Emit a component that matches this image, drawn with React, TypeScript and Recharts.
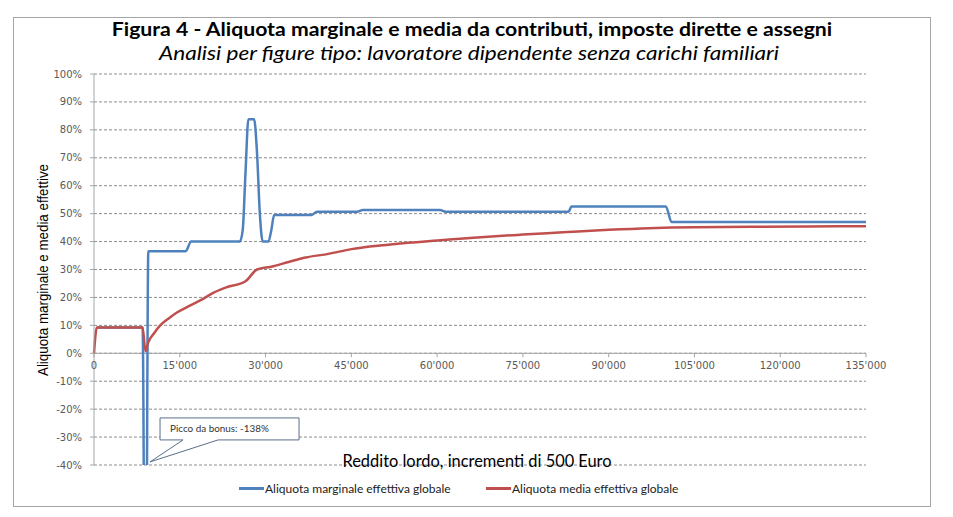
import React from "react";
import { LineChart, Line, XAxis, YAxis, CartesianGrid, ReferenceLine, ReferenceDot } from "recharts";

// gross income (euro) and effective marginal rate (%)
const marginalIncome = [500, 8500, 9000, 9500, 16000, 17000, 25500, 26000, 26500, 27000, 28000, 28500, 29000, 29500, 30500, 31000, 31500, 38000, 39000, 46000, 47000, 60500, 61500, 83000, 83500, 100000, 101000, 135000];
const marginalRate = [9.2, 9.2, -138, 36.5, 36.5, 40, 40, 44, 65, 83.8, 83.8, 72, 50, 40, 40, 44, 49.5, 49.5, 50.7, 50.7, 51.3, 51.3, 50.7, 50.7, 52.6, 52.6, 47, 47];

// gross income (euro) and effective average rate (%)
const averageIncome = [0, 500, 8500, 9000, 9500, 10500, 11500, 13000, 14500, 16500, 19000, 21000, 23000, 26500, 28500, 31000, 34000, 37000, 41000, 45000, 50000, 55000, 60000, 67000, 75000, 82000, 90000, 97000, 101000, 105000, 115000, 125000, 135000];
const averageRate = [0, 9.2, 9.2, 0.8, 4.0, 7.2, 9.8, 12.4, 14.6, 16.8, 19.4, 21.8, 23.5, 25.8, 30.0, 31.0, 32.7, 34.3, 35.6, 37.3, 38.6, 39.6, 40.4, 41.5, 42.5, 43.3, 44.2, 44.8, 45.0, 45.1, 45.3, 45.4, 45.5];

const xTicks = [0, 15000, 30000, 45000, 60000, 75000, 90000, 105000, 120000, 135000];
const yTicks = [-40, -30, -20, -10, 0, 10, 20, 30, 40, 50, 60, 70, 80, 90, 100];

const BLUE = "#4f81bd";
const RED = "#c0504d";
const TICK = { fontSize: 10, fill: "#595959", fontFamily: "DejaVu Sans" };

const marginalData = marginalIncome.map((x, i) => ({ x, y: marginalRate[i] }));
const averageData = averageIncome.map((x, i) => ({ x, y: averageRate[i] }));

const fmtEuro = (v: number) => (v === 0 ? "0" : `${v / 1000}'000`);

const Callout = (props: any) => {
  const { cx, cy } = props;
  const l = cx + 10, r = cx + 149, t = cy - 44, b = cy - 22;
  return (
    <g>
      <path
        d={`M${l},${t} H${r} V${b} H${cx + 68} L${cx},${cy} L${cx + 33},${b} H${l} Z`}
        fill="#fff" stroke="#5a6f8a" strokeWidth={1}
      />
      <text x={cx + 20} y={cy - 30} fontSize={9.9} fontFamily="Lato" fill="#333">Picco da bonus: -138%</text>
    </g>
  );
};

export default function App() {
  return (
    <div style={{ position: "fixed", left: 0, top: 0, width: 953, height: 517, background: "#fff", fontFamily: "Lato" }}>
      <div style={{ position: "absolute", left: 13, top: 17, width: 916, height: 488, border: "1px solid #a6a6a6" }} />

      <div style={{ position: "absolute", left: 472, top: 29, transform: "translate(-50%,-50%) scaleX(1.146)", whiteSpace: "nowrap", fontWeight: 700, fontSize: 18.5, lineHeight: "20px", color: "#000" }}>
        Figura 4 - Aliquota marginale e media da contributi, imposte dirette e assegni
      </div>
      <div style={{ position: "absolute", left: 469, top: 53, transform: "translate(-50%,-50%) scaleX(1.22)", whiteSpace: "nowrap", fontStyle: "italic", fontSize: 18.5, lineHeight: "20px", color: "#000" }}>
        Analisi per figure tipo: lavoratore dipendente senza carichi familiari
      </div>

      <div style={{ position: "absolute", left: 0, top: 0 }}>
        <LineChart width={953} height={517} margin={{ top: 74, right: 87, bottom: 52, left: 34 }}>
          <CartesianGrid vertical={false} stroke="#8c8c8c" strokeDasharray="3 2" />
          <XAxis type="number" dataKey="x" domain={[0, 135000]} ticks={xTicks} hide />
          <YAxis
            type="number" domain={[-40, 100]} ticks={yTicks} allowDataOverflow width={60}
            tickFormatter={(v: number) => `${v}%`} tick={TICK} tickSize={4} tickMargin={8}
            axisLine={{ stroke: "#a6a6a6" }} tickLine={{ stroke: "#a6a6a6" }}
          />
          <ReferenceLine y={0} stroke="#a6a6a6" strokeWidth={1} />
          {xTicks.map((t) => (
            <ReferenceLine
              key={t}
              segment={[{ x: t, y: 0 }, { x: t, y: -1.4 }]}
              stroke="#a6a6a6"
              label={{ value: fmtEuro(t), position: "bottom", offset: 5, ...TICK }}
            />
          ))}
          <Line data={marginalData} dataKey="y" type="monotone" stroke={BLUE} strokeWidth={2.5} dot={false} activeDot={false} isAnimationActive={false} />
          <Line data={averageData} dataKey="y" type="monotone" stroke={RED} strokeWidth={2.5} dot={false} activeDot={false} isAnimationActive={false} />
          <ReferenceDot x={9800} y={-38.9} shape={<Callout />} />
        </LineChart>
      </div>

      <div style={{ position: "absolute", left: 42, top: 270, transform: "translate(-50%,-50%) rotate(-90deg) scaleX(0.89)", whiteSpace: "nowrap", fontFamily: "'Liberation Sans Narrow', 'Arial Narrow', sans-serif", fontSize: 15, color: "#000" }}>
        Aliquota marginale e media effettive
      </div>
      <div style={{ position: "absolute", left: 477, top: 460, transform: "translate(-50%,-50%)", whiteSpace: "nowrap", fontSize: 16.4, color: "#000" }}>
        Reddito lordo, incrementi di 500 Euro
      </div>

      <div style={{ position: "absolute", left: 239, top: 487, width: 25, height: 2.5, background: BLUE }} />
      <div style={{ position: "absolute", left: 265, top: 488, transform: "translateY(-50%)", whiteSpace: "nowrap", fontSize: 12, color: "#222" }}>
        Aliquota marginale effettiva globale
      </div>
      <div style={{ position: "absolute", left: 486, top: 487, width: 25, height: 2.5, background: RED }} />
      <div style={{ position: "absolute", left: 512, top: 488, transform: "translateY(-50%)", whiteSpace: "nowrap", fontSize: 12, color: "#222" }}>
        Aliquota media effettiva globale
      </div>
    </div>
  );
}
